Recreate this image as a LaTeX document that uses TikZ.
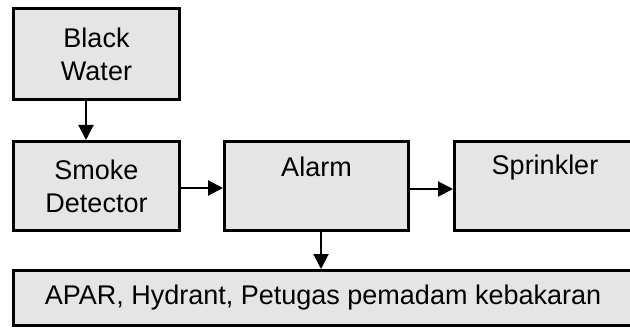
\documentclass[tikz,border=0pt]{standalone}
\usepackage{fontspec}
\setmainfont{Liberation Sans}
\usetikzlibrary{arrows.meta}
\definecolor{boxfill}{RGB}{229,229,229}
\tikzset{
  box/.style={draw=black, line width=3pt, fill=boxfill, rectangle, inner sep=0pt,
    align=center, font=\fontsize{27}{33}\selectfont},
  lbl/.style={anchor=base, inner sep=0pt, font=\fontsize{27}{33}\selectfont},
  arr/.style={line width=2pt, -{Triangle[length=15pt,width=15pt]}}
}
\begin{document}
\begin{tikzpicture}[x=1pt,y=-1pt]
\useasboundingbox (0,0) rectangle (630,329);
\clip (0,0) rectangle (630,329);
\node[box, minimum width=166pt, minimum height=91pt] (bw) at (96.5,54) {Black\\Water};
\node[box, minimum width=166pt, minimum height=89pt] (sd) at (96.5,186) {Smoke\\Detector};
\node[box, minimum width=184pt, minimum height=89pt] (al) at (316.5,186) {};
\node[lbl] (allbl) at (316.5,176) {Alarm};
\node[box, minimum width=184pt, minimum height=89pt] (sp) at (546.5,186) {};
\node[lbl] (splbl) at (545,175) {Sprinkler};
\node[box, minimum width=619pt, minimum height=55pt] (ap) at (323,298) {APAR, Hydrant, Petugas pemadam kebakaran};
\draw[arr] ([xshift=-10.5pt]bw.south) -- ([xshift=-10.5pt]bw.south |- sd.north);
\draw[arr] ([yshift=-2pt]sd.east) -- ([yshift=-2pt]sd.east -| al.west);
\draw[arr] ([yshift=-3pt]al.east) -- ([yshift=-3pt]al.east -| sp.west);
\draw[arr] ([xshift=4.5pt]al.south) -- ([xshift=4.5pt]al.south |- ap.north);
\end{tikzpicture}
\end{document}
